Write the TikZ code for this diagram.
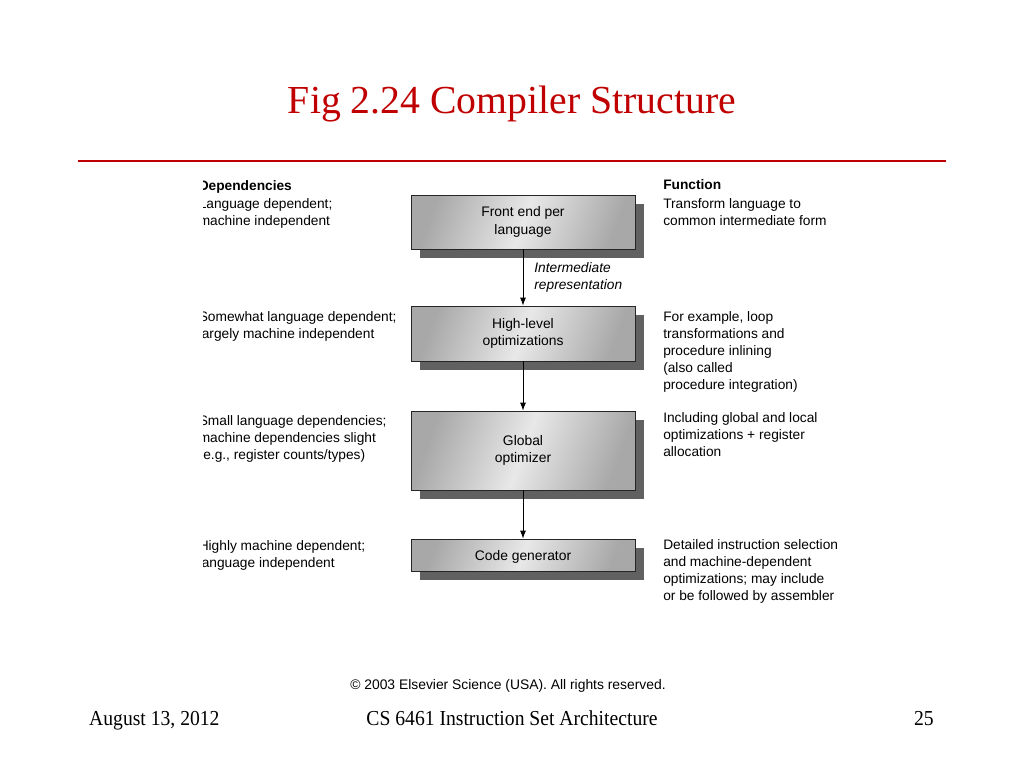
\documentclass[tikz,border=0pt]{standalone}
\usepackage{fontspec}
\setmainfont{Liberation Serif}
\newfontfamily\arialfont{Liberation Sans}
\usetikzlibrary{arrows.meta,shadows,positioning}
\definecolor{slidered}{RGB}{192,0,0}
\definecolor{boxedge}{RGB}{168,168,168}
\definecolor{boxmid}{RGB}{232,232,232}
\tikzstyle{stage}=[draw=black!85,line width=0.6pt,left color=boxedge,right color=boxedge,middle color=boxmid,shading angle=70,minimum width=168pt,inner sep=0pt,align=center,font=\arialfont\fontsize{10.4}{13.2}\selectfont,drop shadow={shadow xshift=6.75pt,shadow yshift=-6.75pt,fill=black!62,opacity=1}]
\tikzstyle{note}=[anchor=north west,inner sep=0pt,align=left,font=\arialfont\fontsize{10.3}{12.75}\selectfont]
\tikzstyle{head}=[anchor=north west,inner sep=0pt,font=\arialfont\bfseries\fontsize{10.3}{12.75}\selectfont]

\begin{document}
\begin{tikzpicture}[x=0.75pt,y=-0.75pt,>={Latex[length=6pt,width=4.5pt]}]
\useasboundingbox (0,0) rectangle (1024,768);
\draw (512,113) node [anchor=base,text=slidered,font=\fontsize{29.8}{36}\selectfont] (title) {Fig 2.24 Compiler Structure};
\draw[slidered,line width=1.5pt] (78,161) -- (946,161);
\draw (523,222) node [stage,minimum height=40.5pt] (fe) {Front end per\\language};
\draw (523,333.5) node [stage,minimum height=41.25pt] (hl) {High-level\\optimizations};
\draw (523,450.5) node [stage,minimum height=59.25pt,yshift=0pt] (go) {Global\\optimizer};
\draw (523,555) node [stage,minimum height=24pt,text depth=0pt] (cg) {Code generator};
\draw[->,line width=0.6pt] (fe) -- node [midway,right,inner sep=0pt,xshift=8.25pt,align=left,font=\arialfont\itshape\fontsize{10.3}{12.75}\selectfont] (ir) {Intermediate\\representation} (hl);
\draw[->,line width=0.6pt] (hl) -- (go);
\draw[->,line width=0.6pt] (go) -- (cg);
% left column, cut at its left edge
\begin{scope}
\clip (203,170) rectangle (420,600);
\draw (198.5,180.5) node [head] (dep) {Dependencies};
\draw (198.5,198.5) node [note] (d1) {Language dependent;\\machine independent};
\draw (198.5,311.5) node [note] (d2) {Somewhat language dependent;\\largely machine independent};
\draw (198.5,415.5) node [note] (d3) {Small language dependencies;\\machine dependencies slight\\(e.g., register counts/types)};
\draw (198.5,540.5) node [note] (d4) {Highly machine dependent;\\language independent};
\end{scope}
% right column
\draw (663,179.5) node [head] (fun) {Function};
\draw (663,198.5) node [note] (f1) {Transform language to\\common intermediate form};
\draw (663,311.5) node [note] (f2) {For example, loop\\transformations and\\procedure inlining\\(also called\\procedure integration)};
\draw (663,412.5) node [note] (f3) {Including global and local\\optimizations + register\\allocation};
\draw (663,539.5) node [note] (f4) {Detailed instruction selection\\and machine-dependent\\optimizations; may include\\or be followed by assembler};
% footer
\draw (508,689) node [anchor=base,font=\arialfont\fontsize{10.4}{12}\selectfont] (copy) {\textcopyright{} 2003 Elsevier Science (USA). All rights reserved.};
\draw (89,725) node [anchor=base west,inner sep=0pt,font=\fontsize{16}{19}\selectfont,xscale=0.92] (date) {August 13, 2012};
\draw (512,725) node [anchor=base,inner sep=0pt,font=\fontsize{16}{19}\selectfont,xscale=0.92] (course) {CS 6461 Instruction Set Architecture};
\draw (934,725) node [anchor=base east,inner sep=0pt,font=\fontsize{16}{19}\selectfont,xscale=0.92] (page) {25};
\end{tikzpicture}
\end{document}
